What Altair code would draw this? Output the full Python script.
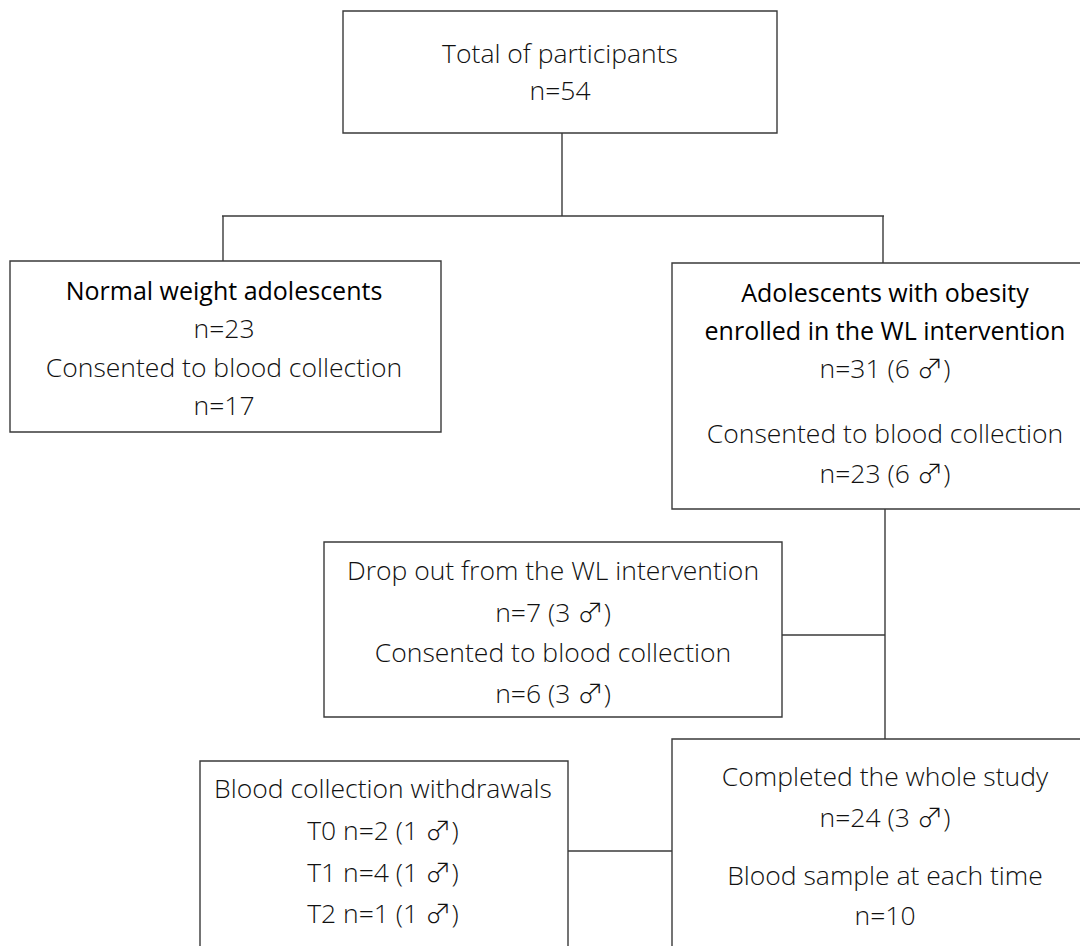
import altair as alt
import pandas as pd

# ---- content (text of each box, top to bottom) ----
MALE = "\u2642"
total_lines = ["Total of participants", "n=54"]
normal_lines = ["Normal weight adolescents", "n=23", "Consented to blood collection", "n=17"]
obese_lines = ["Adolescents with obesity", "enrolled in the WL intervention",
               f"n=31 (6 {MALE})", "Consented to blood collection", f"n=23 (6 {MALE})"]
dropout_lines = ["Drop out from the WL intervention", f"n=7 (3 {MALE})",
                 "Consented to blood collection", f"n=6 (3 {MALE})"]
withdraw_lines = ["Blood collection withdrawals", f"T0 n=2 (1 {MALE})",
                  f"T1 n=4 (1 {MALE})", f"T2 n=1 (1 {MALE})"]
complete_lines = ["Completed the whole study", f"n=24 (3 {MALE})",
                  "Blood sample at each time", "n=10"]
# number of heading lines (regular weight) at the top of each box
heading_count = {"total": 0, "normal": 1, "obese": 2, "dropout": 0, "withdraw": 0, "complete": 0}

# ---- layout (pixel coordinates of the page) ----
W, H = 1072, 938
X0, Y0 = 8, 8
layout = {
    "total":    dict(box=(343, 777, 11, 133),   cx=560, base=[63, 100]),
    "normal":   dict(box=(10, 441, 261, 432),   cx=224, base=[300, 338, 377, 415]),
    "obese":    dict(box=(672, 1098, 263, 509), cx=885, base=[302, 340, 378, 443, 483]),
    "dropout":  dict(box=(324, 782, 542, 717),  cx=553, base=[580, 622, 662, 703]),
    "withdraw": dict(box=(200, 568, 761, 980),  cx=383, base=[798, 840, 882, 923]),
    "complete": dict(box=(672, 1098, 739, 980), cx=885, base=[786, 827, 885, 925]),
}
texts = {"total": total_lines, "normal": normal_lines, "obese": obese_lines,
         "dropout": dropout_lines, "withdraw": withdraw_lines, "complete": complete_lines}
connectors = [
    (562, 133, 562, 216),
    (222, 216, 884, 216),
    (223, 216, 223, 261),
    (883, 216, 883, 263),
    (885, 509, 885, 739),
    (782, 635, 885, 635),
    (568, 851, 672, 851),
]

box_rows, text_rows = [], []
for key, lay in layout.items():
    x1, x2, y1, y2 = lay["box"]
    box_rows.append(dict(name=key, x=x1, x2=x2, y=y1, y2=y2))
    for i, (t, b) in enumerate(zip(texts[key], lay["base"])):
        text_rows.append(dict(name=key, x=lay["cx"], y=b, text=t,
                              head=i < heading_count[key]))
boxes = pd.DataFrame(box_rows)
tx = pd.DataFrame(text_rows)
lines = pd.DataFrame([dict(x=a, y=b, x2=c, y2=d) for a, b, c, d in connectors])

xs = alt.Scale(domain=[X0, X0 + W], nice=False, zero=False)
ys = alt.Scale(domain=[Y0, Y0 + H], nice=False, zero=False, reverse=True)
X = lambda f: alt.X(f, type="quantitative", scale=xs, axis=None)
Y = lambda f: alt.Y(f, type="quantitative", scale=ys, axis=None)

BODY_FONT = "Open Sans, Noto Sans CJK JP, DejaVu Sans, sans-serif"
HEAD_FONT = "Open Sans, Noto Sans CJK JP, sans-serif"
rects = alt.Chart(boxes).mark_rect(fill="white", stroke="#3a3a3a", strokeWidth=1.4).encode(
    x=X("x"), x2="x2", y=Y("y"), y2="y2")
rules = alt.Chart(lines).mark_rule(color="#3a3a3a", strokeWidth=1.4).encode(
    x=X("x"), x2="x2", y=Y("y"), y2="y2")
body = alt.Chart(tx[~tx["head"]]).mark_text(
    font=BODY_FONT, fontSize=26.5, fontWeight=300, color="#111111",
    align="center", baseline="alphabetic").encode(x=X("x"), y=Y("y"), text="text:N")
heads = alt.Chart(tx[tx["head"]]).mark_text(
    font=HEAD_FONT, fontSize=25, fontWeight=400, color="#000000",
    align="center", baseline="alphabetic").encode(x=X("x"), y=Y("y"), text="text:N")

chart = alt.layer(rects, rules, body, heads).properties(
    width=W, height=H, padding=0, background="white",
    autosize=alt.AutoSizeParams(type="none")
).configure_view(strokeWidth=0, stroke=None)

chart.save("out.html", embed_options={"renderer": "svg", "actions": False})
